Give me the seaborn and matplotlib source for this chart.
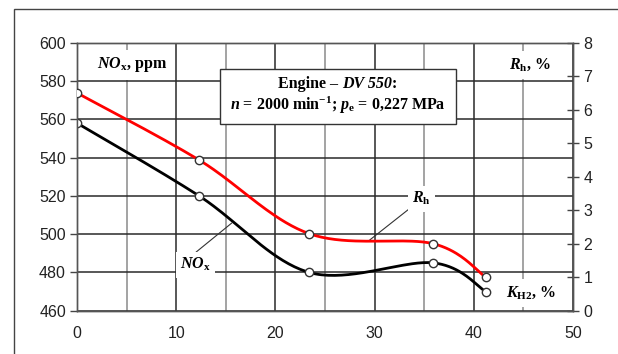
import numpy as np
import pandas as pd
import seaborn as sns
import matplotlib
matplotlib.use("Agg")
import matplotlib.pyplot as plt
from matplotlib.patches import Rectangle
from matplotlib.lines import Line2D
from matplotlib.offsetbox import TextArea, HPacker, AnnotationBbox

# ---- data ----
k_h2 = [0.0, 12.3, 23.4, 35.9, 41.2]
nox_ppm = [558, 520, 480, 485, 470]
rh_pct = [6.5, 4.5, 2.3, 2.0, 1.0]
x_ticks = [0, 10, 20, 30, 40, 50]
left_ticks = [460, 480, 500, 520, 540, 560, 580, 600]
right_ticks = [0, 1, 2, 3, 4, 5, 6, 7, 8]

sns.set_theme(style="white")
plt.rcParams['font.family'] = ['Liberation Sans', 'DejaVu Sans']
plt.rcParams['mathtext.fontset'] = 'custom'
plt.rcParams['mathtext.rm'] = 'Liberation Serif:bold'
plt.rcParams['mathtext.bf'] = 'Liberation Serif:bold'
plt.rcParams['mathtext.it'] = 'Liberation Serif:italic:bold'


def smooth(xs, ys, n=40):
    """Catmull-Rom style Bezier smoothing (like a spreadsheet 'smoothed line')."""
    P = np.column_stack([xs, ys]).astype(float)
    P = np.vstack([P[0], P, P[-1]])
    out = []
    for i in range(1, len(P) - 2):
        p0, p1, p2, p3 = P[i - 1], P[i], P[i + 1], P[i + 2]
        c1 = p1 + (p2 - p0) / 6.0
        c2 = p2 - (p3 - p1) / 6.0
        t = np.linspace(0, 1, n)[:, None]
        seg = ((1 - t) ** 3) * p1 + 3 * ((1 - t) ** 2) * t * c1 + 3 * (1 - t) * t ** 2 * c2 + t ** 3 * p2
        out.append(seg if i == 1 else seg[1:])
    s = np.vstack(out)
    return s[:, 0], s[:, 1]


fig = plt.figure(figsize=(6.18, 3.54), dpi=100)
ax = fig.add_axes([77 / 618, 1 - 310.7 / 354, 496 / 618, 268 / 354])
ax2 = ax.twinx()

# outer frame
fig.add_artist(Rectangle((14 / 618, -0.5), 2, 0.5 + 1 - 9 / 354, transform=fig.transFigure,
                         fill=False, edgecolor='#444444', lw=1.0))

ax.set_xlim(0, 50)
ax.set_ylim(460, 600)
ax2.set_ylim(0, 8)
ax.set_xticks(x_ticks)
ax.set_xticks([5, 15, 25, 35, 45], minor=True)
ax.set_yticks(left_ticks)
ax2.set_yticks(right_ticks)

ax.set_axisbelow(True)
ax.grid(which='major', axis='both', color='#2a2a2a', lw=1.1)
ax.grid(which='minor', axis='x', color='#8a8a8a', lw=1.1)

for a in (ax, ax2):
    for sp in a.spines.values():
        sp.set_color('#555555')
        sp.set_linewidth(1.0)

ax.tick_params(axis='both', which='major', direction='out', length=5, width=1, color='#444444',
               labelsize=11.5, labelcolor='#222222', pad=3)
ax.tick_params(axis='x', which='minor', length=0)
ax.tick_params(axis='x', pad=6)
ax2.tick_params(axis='y', direction='inout', length=9, width=1, color='#444444',
                labelsize=11.5, labelcolor='#222222', pad=3)

# curves
xs, ys = smooth(k_h2, nox_ppm)
sns.lineplot(x=xs, y=ys, ax=ax, color='black', lw=2.0, sort=False, estimator=None, zorder=4)
xr, yr = smooth(k_h2, rh_pct)
sns.lineplot(x=xr, y=yr, ax=ax2, color='#ff0000', lw=2.0, sort=False, estimator=None, zorder=4)

sns.scatterplot(x=k_h2, y=nox_ppm, ax=ax, marker='o', s=36, color='white', edgecolor='#333333',
                linewidth=1.0, zorder=5)
sns.scatterplot(x=k_h2, y=rh_pct, ax=ax2, marker='o', s=36, color='white', edgecolor='#333333',
                linewidth=1.0, zorder=5)

serif = dict(family='Liberation Serif', weight='bold', color='black')

ax.text(2.0, 588.5, r'$NO_{\mathrm{x}}$, ppm', fontsize=11.5, ha='left', va='center', zorder=3,
        bbox=dict(facecolor='white', edgecolor='none', pad=4), **serif)
ax.text(43.5, 588.5, r'$R_{\mathrm{h}}$, %', fontsize=11.5, ha='left', va='center', zorder=3,
        bbox=dict(facecolor='white', edgecolor='none', pad=4), **serif)
ax.text(43.2, 469.5, r'$K_{\mathrm{H2}}$, %', fontsize=11.5, ha='left', va='center', zorder=3,
        bbox=dict(facecolor='white', edgecolor='none', pad=4), **serif)

# info box
ax.add_patch(Rectangle((0.2883, 0.6966), 0.4757, 0.2053, transform=ax.transAxes,
                       facecolor='white', edgecolor='#333333', lw=1.0, zorder=3))
line1 = HPacker(children=[
    TextArea('Engine – ', textprops=dict(fontsize=11.5, **serif)),
    TextArea('DV 550', textprops=dict(fontsize=11.5, style='italic', **serif)),
    TextArea(':', textprops=dict(fontsize=11.5, **serif)),
], align='baseline', pad=0, sep=0)
ab = AnnotationBbox(line1, (0.526, 0.846), xycoords=ax.transAxes, frameon=False,
                    box_alignment=(0.5, 0.5), pad=0)
ab.set_zorder(4)
ax.add_artist(ab)
ax.text(0.526, 0.768, r'$n$ = 2000 min$^{\mathrm{-1}}$; $p_{\mathrm{e}}$ = 0,227 MPa',
        transform=ax.transAxes, fontsize=11.5, ha='center', va='center', zorder=4, **serif)

# leader labels
ax.add_line(Line2D([12.0, 15.6], [490.6, 505.8], color='#333333', lw=0.8, zorder=3))
ax.text(11.9, 484.0, r'$NO_{\mathrm{x}}$', fontsize=11.5, ha='center', va='center', zorder=3,
        bbox=dict(facecolor='white', edgecolor='none', pad=3), **serif)
ax.add_line(Line2D([34.1, 29.5], [515.7, 496.9], color='#333333', lw=0.8, zorder=3))
ax.text(34.7, 518.5, r'$R_{\mathrm{h}}$', fontsize=11.5, ha='center', va='center', zorder=3,
        bbox=dict(facecolor='white', edgecolor='none', pad=3), **serif)

ax.set_xlabel('')
ax.set_ylabel('')
ax2.set_ylabel('')

fig.savefig('out.png', dpi=100)
